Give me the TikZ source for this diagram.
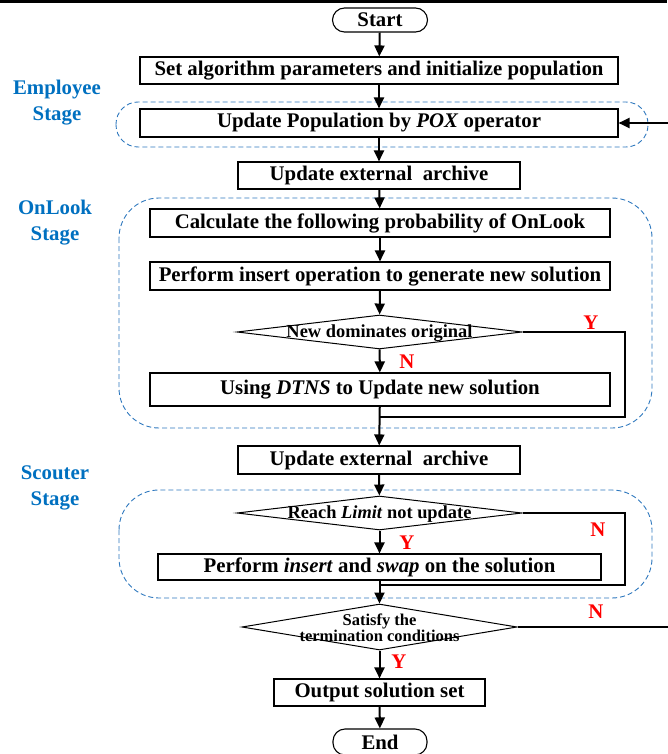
\documentclass[tikz,border=0pt]{standalone}
\usepackage{fontspec}
\setmainfont{Liberation Serif}
\usetikzlibrary{arrows.meta,shapes.geometric}
\definecolor{stageblue}{RGB}{0,112,192}
\definecolor{dashblue}{RGB}{46,120,190}
\definecolor{ynred}{RGB}{255,0,0}
\begin{document}
\begin{tikzpicture}[x=1pt,y=-1pt,
  box/.style={draw,line width=1.1pt,inner sep=0pt,font=\fontsize{20.8}{22}\selectfont\bfseries},
  term/.style={box,rounded corners=12pt},
  dia/.style={draw,diamond,line width=1pt,inner sep=0pt},
  diatext/.style={inner sep=0pt,font=\fontsize{18.4}{20}\selectfont\bfseries},
  smalltext/.style={inner sep=0pt,align=center,font=\fontsize{16.5}{16}\selectfont\bfseries},
  conn/.style={line width=2pt,-{Triangle[length=11pt,width=10pt]}},
  plain/.style={line width=2pt},
  region/.style={draw=dashblue,line width=0.9pt,dash pattern=on 5pt off 3pt},
  stage/.style={text=stageblue,inner sep=0pt,font=\fontsize{20.8}{26}\selectfont\bfseries,align=center},
  yn/.style={text=ynred,inner sep=0pt,font=\fontsize{20.8}{22}\selectfont\bfseries}
]
\useasboundingbox (0,0) rectangle (667,754);
\draw[line width=3pt] (0,1.5) -- (667,1.5);

% regions
\draw[region,rounded corners=22pt] (116,102) rectangle (648,147);
\draw[region,rounded corners=40pt] (119,198) rectangle (652,428);
\draw[region,rounded corners=40pt] (119,490) rectangle (652,598);

% stage labels
\node[stage] (lab1) at (57,103) {Employee\\Stage};
\node[stage] (lab2) at (55,223) {OnLook\\Stage};
\node[stage] (lab3) at (55,488) {Scouter\\Stage};

% nodes
\node[term,minimum width=95pt,minimum height=24pt] (start) at (380,20) {Start};
\node[box,minimum width=478pt,minimum height=27pt] (b1) at (379,70.5) {Set algorithm parameters and initialize population};
\node[box,minimum width=478pt,minimum height=28pt] (b2) at (379,123) {Update Population by \textit{POX} operator};
\node[box,minimum width=282pt,minimum height=27pt] (b3) at (379,175.5) {Update external\ \ archive};
\node[box,minimum width=460pt,minimum height=28pt] (b4) at (380,223) {Calculate the following probability of OnLook};
\node[box,minimum width=460pt,minimum height=28pt] (b5) at (380,276) {Perform insert operation to generate new solution};
\node[dia,minimum width=285pt,minimum height=34pt] (d1) at (379.5,332) {};
\node[diatext] (d1t) at (379.5,333) {New dominates original};
\node[box,minimum width=460pt,minimum height=33pt] (b6) at (380,389.5) {Using \textit{DTNS} to Update new solution};
\node[box,minimum width=282pt,minimum height=28pt] (b7) at (379,460) {Update external\ \ archive};
\node[dia,minimum width=285pt,minimum height=34pt] (d2) at (379.5,513) {};
\node[diatext] (d2t) at (379.5,514) {Reach \textit{Limit} not update};
\node[box,minimum width=443pt,minimum height=26pt] (b8) at (379.5,567) {Perform \textit{insert} and \textit{swap} on the solution};
\node[dia,minimum width=275pt,minimum height=46pt] (d3) at (379.5,627) {};
\node[smalltext] (d3t) at (379.5,628) {Satisfy the\\termination conditions};
\node[box,minimum width=211pt,minimum height=27pt] (b9) at (379.5,692.5) {Output solution set};
\node[term,minimum width=94pt,minimum height=26pt] (end) at (380,742) {End};

% Y/N labels
\node[yn] (y1) at (591,323) {Y};
\node[yn] (n1) at (407,362) {N};
\node[yn] (n2) at (598,530) {N};
\node[yn] (y2) at (407,543) {Y};
\node[yn] (n3) at (596,612) {N};
\node[yn] (y3) at (399,662) {Y};

% coordinates
\coordinate (c1) at (625,417);
\coordinate (j1) at (379,417);
\coordinate (c2) at (625,585);
\coordinate (j2) at (379,585);
\coordinate (c3) at (672,123);

% connectors
\draw[conn] (start) -- (b1);
\draw[conn] (b1) -- (b2);
\draw[conn] (b2) -- (b3);
\draw[conn] (b3) -- (b4);
\draw[conn] (b4) -- (b5);
\draw[conn] (b5) -- (d1);
\draw[conn] (d1) -- (b6);
\draw[conn] (b6) -- (b7);
\draw[plain] (d1.east) -| (c1) -- (j1);
\draw[conn] (b7) -- (d2);
\draw[conn] (d2) -- (b8);
\draw[conn] (b8) -- (d3);
\draw[plain] (d2.east) -| (c2) -- (j2);
\draw[conn] (d3) -- (b9);
\draw[conn] (b9) -- (end);
\draw[conn] (d3.east) -| (c3) -- (b2.east);
\end{tikzpicture}
\end{document}
